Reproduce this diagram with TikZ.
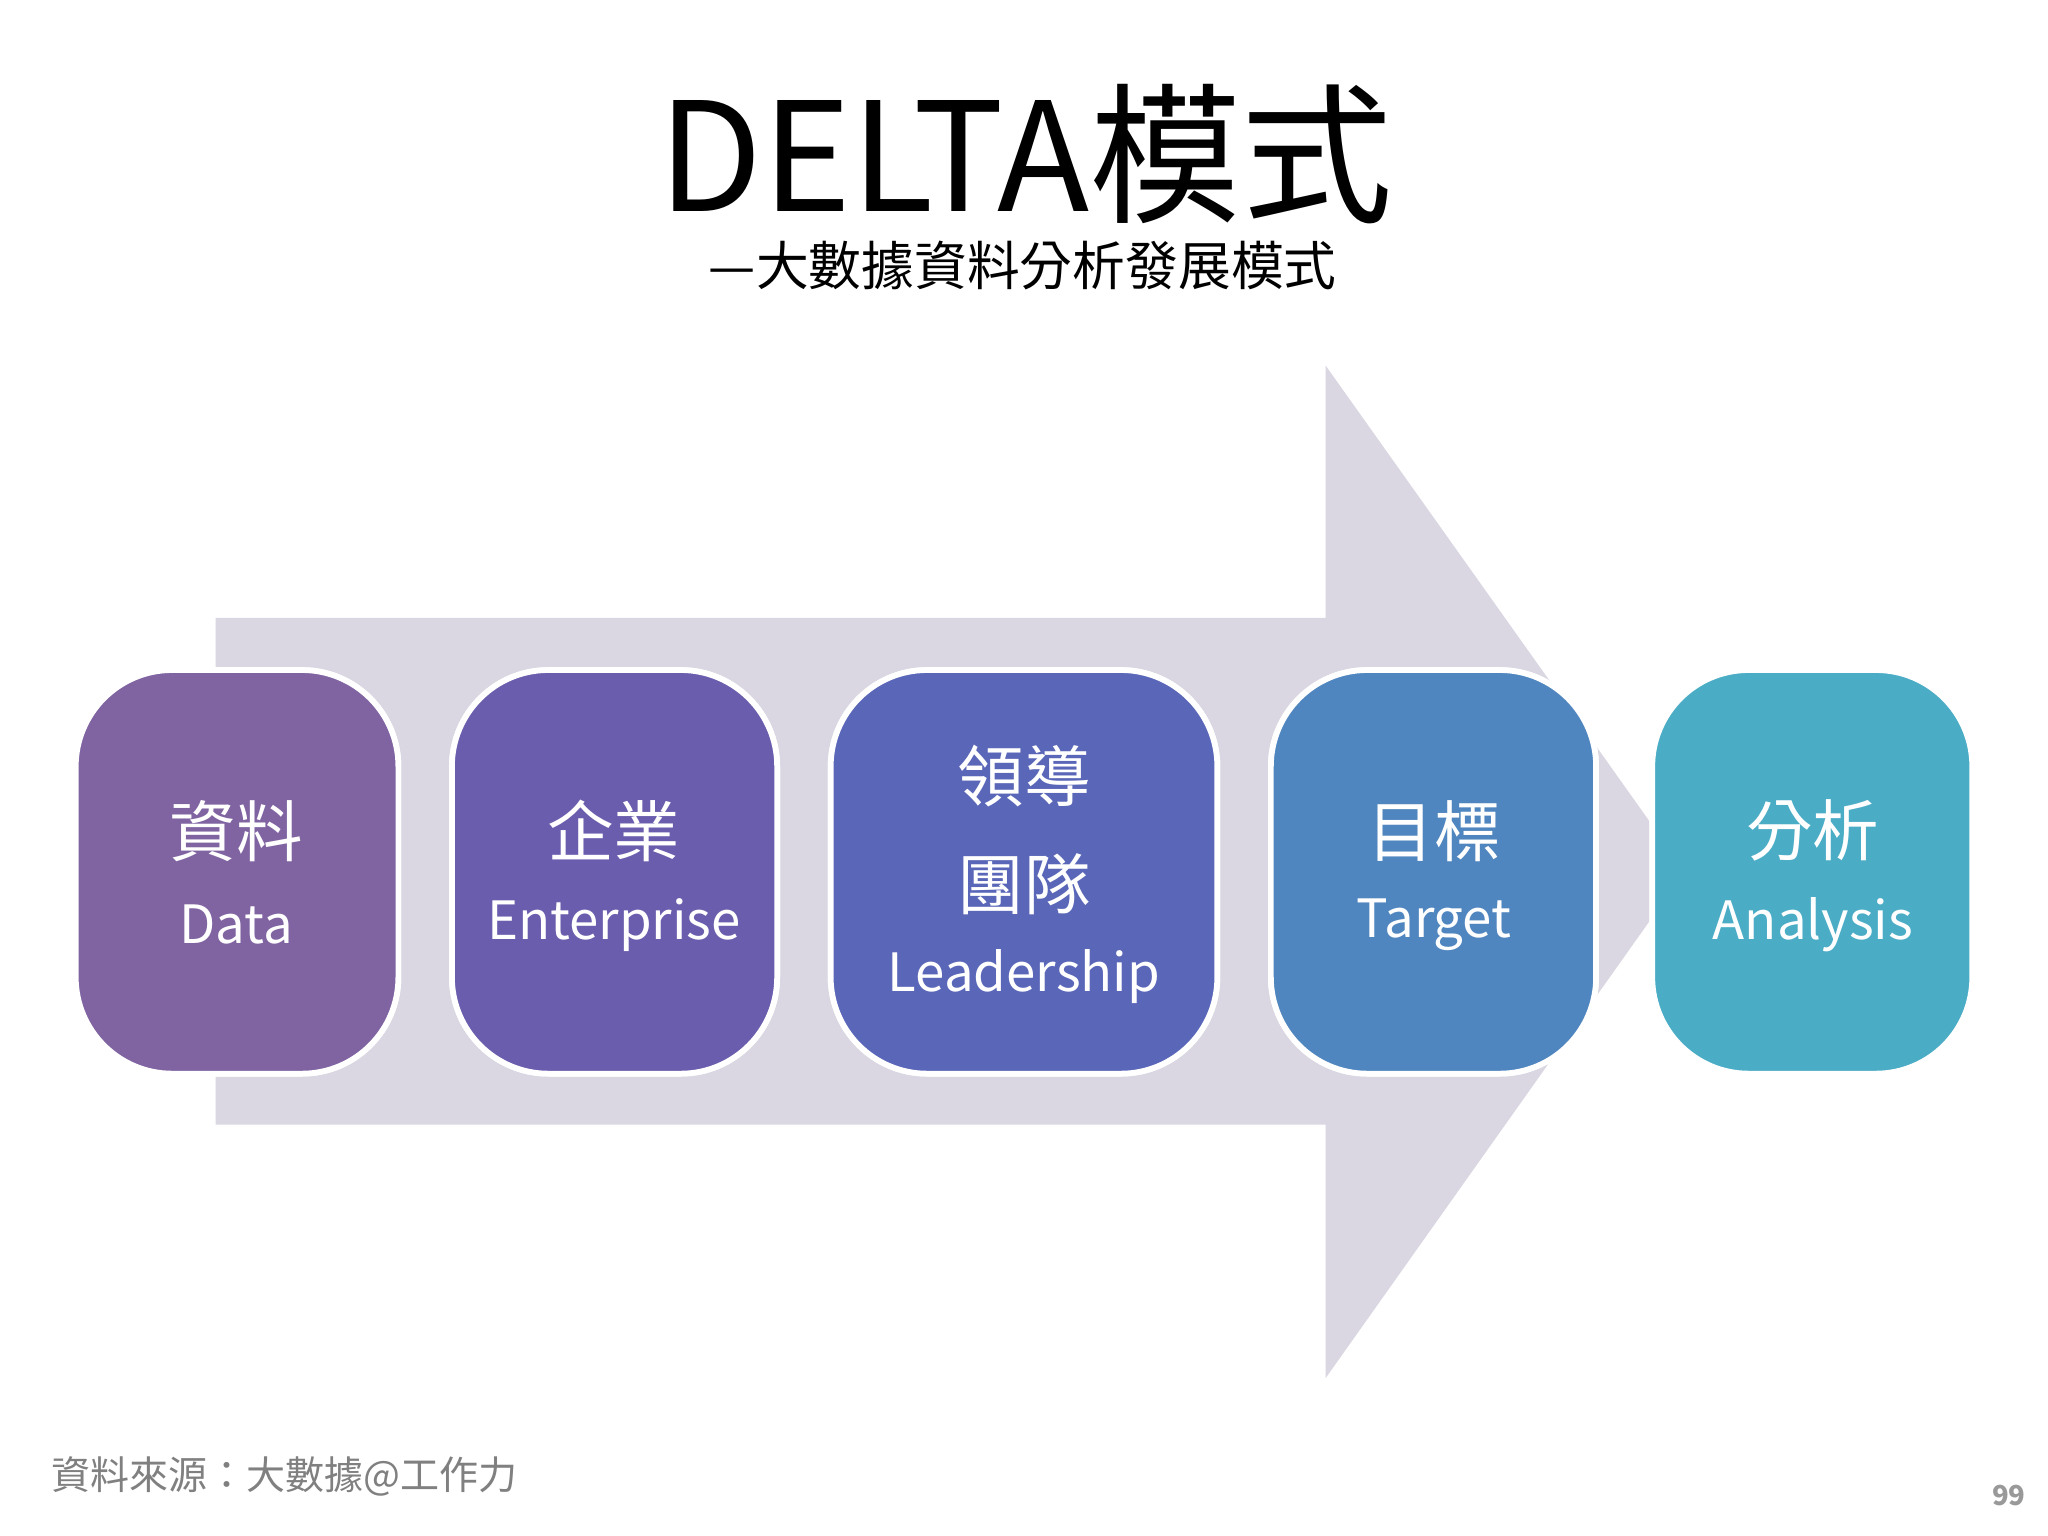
\documentclass[tikz,border=0pt]{standalone}
\usepackage{fontspec}
\setmainfont{Noto Sans CJK TC}
\begin{document}
\begin{tikzpicture}[x=0.02cm,y=-0.02cm,
  box/.style={draw=white,line width=2.5pt,rounded corners=22pt,minimum width=245\pgflinewidth,text=white,align=center,inner sep=0pt},
  zh/.style={font=\fontsize{29}{34}\selectfont},
  en/.style={font=\fontsize{23}{28}\selectfont}]
\fill[white] (0,0) rectangle (1568,1176);
\useasboundingbox (0,0) rectangle (1568,1176);
\fill[fill={rgb,255:red,218;green,215;blue,227}] (165,473) -- (1015,473) -- (1015,280) -- (1290,667) -- (1015,1055) -- (1015,861) -- (165,861) -- cycle;
\node[font=\fontsize{66}{70}\selectfont] (title) at (785,118) {DELTA模式};
\node[font=\fontsize{23}{26}\selectfont] (sub) at (783,203) {—大數據資料分析發展模式};
\foreach \n/\xa/\xb/\c in {d/58/305/{128,100,162},e/346/595/{106,93,173},l/636/932/{90,103,184},t/973/1222/{80,134,191},a/1265/1510/{75,172,198}}{
  \filldraw[draw=white,line width=2.5pt,rounded corners=42,fill={rgb,255:red,0;green,0;blue,0}, fill opacity=0] (\xa,513) rectangle (\xb,822);
}
\definecolor{c1}{RGB}{128,100,162}\definecolor{c2}{RGB}{106,93,173}\definecolor{c3}{RGB}{90,103,184}\definecolor{c4}{RGB}{80,134,191}\definecolor{c5}{RGB}{75,172,198}
\filldraw[draw=white,line width=2.5pt,rounded corners=42,fill=c1] (58,513) rectangle (305,822);
\filldraw[draw=white,line width=2.5pt,rounded corners=42,fill=c2] (346,513) rectangle (595,822);
\filldraw[draw=white,line width=2.5pt,rounded corners=42,fill=c3] (636,513) rectangle (932,822);
\filldraw[draw=white,line width=2.5pt,rounded corners=42,fill=c4] (973,513) rectangle (1222,822);
\filldraw[draw=white,line width=2.5pt,rounded corners=42,fill=c5] (1265,513) rectangle (1510,822);
\node[zh,text=white] (d1) at (181,636) {資料};
\node[en,text=white] (d2) at (181,708) {Data};
\node[zh,text=white] (e1) at (470,636) {企業};
\node[en,text=white] (e2) at (470,708) {Enterprise};
\node[zh,text=white] (l1) at (784,594) {領導};
\node[zh,text=white] (l2) at (784,677) {團隊};
\node[en,text=white] (l3) at (784,748) {Leadership};
\node[zh,text=white] (t1) at (1098,636) {目標};
\node[en,text=white] (t2) at (1098,708) {Target};
\node[zh,text=white] (a1) at (1388,636) {分析};
\node[en,text=white] (a2) at (1388,708) {Analysis};
\node[anchor=west,text=gray,font=\fontsize{17}{20}\selectfont] (src) at (33,1130) {資料來源：大數據@工作力};
\node[text=gray!80,font=\bfseries\fontsize{12}{14}\selectfont] (pg) at (1538,1145) {99};
\end{tikzpicture}
\end{document}
